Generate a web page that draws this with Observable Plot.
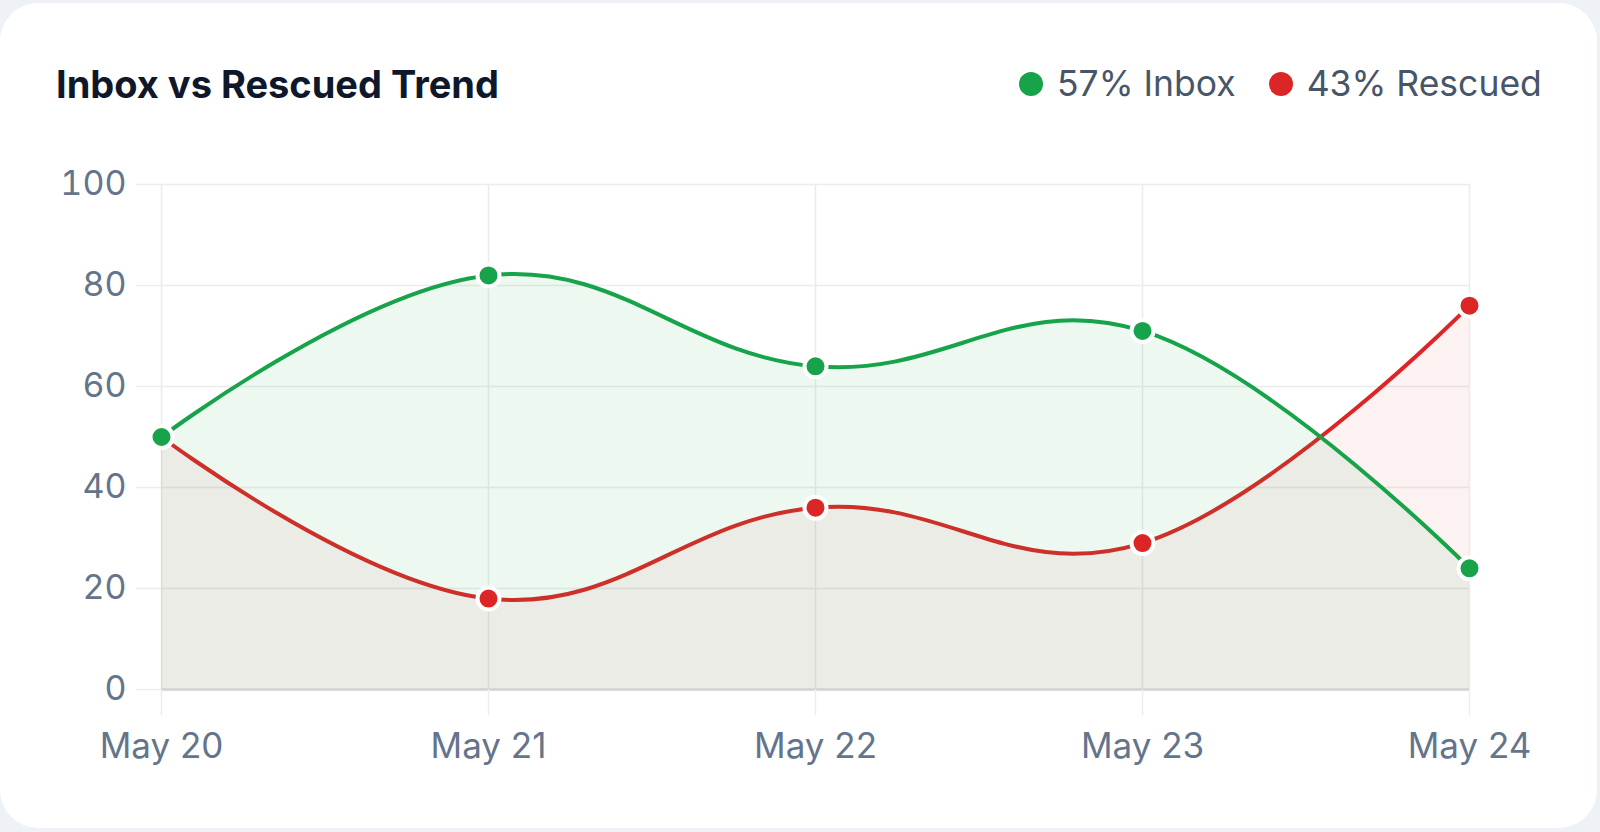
<!DOCTYPE html>
<html>
<head>
<meta charset="utf-8">
<script src="https://cdn.jsdelivr.net/npm/d3@7"></script>
<script src="https://cdn.jsdelivr.net/npm/@observablehq/plot@0.6"></script>
<style>
  html, body { margin: 0; padding: 0; width: 1600px; height: 832px; overflow: hidden; background: #eef1f6; font-family: Inter, "Noto Sans", sans-serif; }
  #card { position: absolute; left: 0; top: 3px; width: 1597px; height: 825px; background: #ffffff; border-radius: 38px; }
  #title { position: absolute; left: 56px; top: 64px; font-size: 38px; line-height: 40px; font-weight: 700; color: #0f172a; white-space: nowrap; }
  #legend { position: absolute; left: 1019px; top: 64px; height: 40px; display: flex; align-items: center; font-size: 35.5px; line-height: 40px; color: #475569; white-space: nowrap; }
  .item { display: flex; align-items: center; }
  .item + .item { margin-left: 33px; }
  .dot { width: 24px; height: 24px; border-radius: 50%; margin-right: 14px; }
  #chart { position: absolute; left: 0; top: 150px; }
</style>
</head>
<body>
<div id="card"></div>
<div id="title"></div>
<div id="legend"></div>
<div id="chart"></div>
<script>
const titleText = "Inbox vs Rescued Trend";
const dates = ["May 20", "May 21", "May 22", "May 23", "May 24"];
const inbox = [50, 82, 64, 71, 24];
const rescued = [50, 18, 36, 29, 76];
const yTicks = [0, 20, 40, 60, 80, 100];
const seriesNames = ["Inbox", "Rescued"];
const seriesShares = [57, 43];
const seriesColors = ["#16a34a", "#dc2626"];

document.getElementById("title").textContent = titleText;
const legend = document.getElementById("legend");
seriesNames.forEach((name, i) => {
  const item = document.createElement("div");
  item.className = "item";
  const dot = document.createElement("span");
  dot.className = "dot";
  dot.style.background = seriesColors[i];
  const label = document.createElement("span");
  label.textContent = `${seriesShares[i]}% ${name}`;
  item.appendChild(dot);
  item.appendChild(label);
  legend.appendChild(item);
});

const rows = dates.map((d, i) => ({date: d, inbox: inbox[i], rescued: rescued[i]}));
const curve = {curve: "cardinal", tension: -0.2};

const chart = Plot.plot({
  width: 1600,
  height: 682,
  marginLeft: 161,
  marginRight: 131,
  marginTop: 34,
  marginBottom: 143,
  style: {background: "transparent", fontFamily: "Inter, 'Noto Sans', sans-serif", fontSize: "35px", color: "#64748b", overflow: "visible"},
  x: {type: "point", domain: dates, padding: 0, label: null},
  y: {domain: [0, 100], label: null},
  marks: [
    Plot.gridY(yTicks, {stroke: "#ececec", strokeOpacity: 1, strokeWidth: 1.5}),
    Plot.gridX(dates, {stroke: "#ececec", strokeOpacity: 1, strokeWidth: 1.5}),
    Plot.areaY(rows, {x: "date", y: "rescued", fill: seriesColors[1], fillOpacity: 0.06, ...curve}),
    Plot.lineY(rows, {x: "date", y: "rescued", stroke: seriesColors[1], strokeWidth: 4, ...curve}),
    Plot.areaY(rows, {x: "date", y: "inbox", fill: seriesColors[0], fillOpacity: 0.08, ...curve}),
    Plot.ruleY([0], {stroke: "#d2d3ce", strokeWidth: 2.5}),
    Plot.lineY(rows, {x: "date", y: "inbox", stroke: seriesColors[0], strokeWidth: 4, ...curve}),
    Plot.dot(rows, {x: "date", y: "rescued", r: 11, fill: seriesColors[1], stroke: "#ffffff", strokeWidth: 4}),
    Plot.dot(rows, {x: "date", y: "inbox", r: 11, fill: seriesColors[0], stroke: "#ffffff", strokeWidth: 4}),
    Plot.axisY(yTicks, {tickSize: 25, tickPadding: 10, stroke: "#ececec", strokeWidth: 1.5, fill: "#64748b", fontSize: 34, label: null}),
    Plot.axisX(dates, {tickSize: 26, tickPadding: 18, stroke: "#ececec", strokeWidth: 1.5, fill: "#64748b", fontSize: 35, label: null})
  ]
});
document.getElementById("chart").appendChild(chart);
</script>
</body>
</html>
